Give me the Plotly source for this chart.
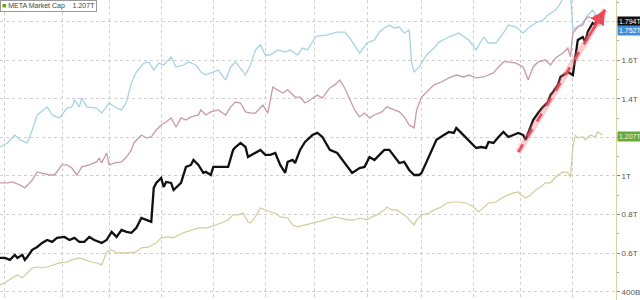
import plotly.graph_objects as go

# ---- data (x = trading-day index, y = market cap in $T on right axis scale) ----
blue_x = [0,3,6,8,11,13,15,19,21,24,27,29,30,32,33,35,39,41,44,47,49,51,53,55,58,60,62,64,66,69,71,74,76,79,81,83,85,88,91,93,95,99,101,103,105,107,109,112,115,117,120,122,124,127,128,132,136,139,141,144,145,148,151,153,155,157,159,161,163,165,166,167,169,172,175,177,181,185,189,192,195,197,200,203,205,208,211,213,216,219,221,224,226,228,230,231,232,235,237,239,241,242]
blue_y = [1.150,1.171,1.212,1.187,1.171,1.238,1.316,1.358,1.316,1.301,1.352,1.358,1.394,1.358,1.404,1.358,1.352,1.326,1.378,1.352,1.342,1.383,1.482,1.539,1.585,1.591,1.549,1.585,1.575,1.617,1.565,1.575,1.591,1.575,1.539,1.523,1.534,1.549,1.497,1.565,1.591,1.523,1.575,1.653,1.679,1.627,1.627,1.653,1.642,1.653,1.627,1.663,1.653,1.715,1.725,1.731,1.746,1.746,1.715,1.653,1.637,1.689,1.705,1.746,1.767,1.782,1.767,1.772,1.741,1.756,1.585,1.539,1.565,1.627,1.663,1.694,1.720,1.741,1.705,1.653,1.720,1.689,1.689,1.741,1.782,1.772,1.741,1.767,1.793,1.808,1.834,1.860,1.896,1.950,1.950,1.756,1.767,1.793,1.834,1.860,1.824,1.772]

pink_x = [0,3,5,8,10,13,15,17,20,22,25,27,29,31,33,36,39,40,41,43,44,46,49,51,53,54,57,59,61,63,65,67,69,71,73,75,77,80,81,83,85,88,91,93,95,97,99,101,103,106,108,110,112,114,116,119,121,123,125,128,130,133,135,137,139,141,143,145,147,149,151,154,156,159,161,163,165,167,168,170,173,175,178,181,184,187,189,192,195,197,199,201,203,205,208,211,213,215,217,220,222,224,227,229,230,231,233,235,236,237,239,240,241]
pink_y = [0.964,0.964,0.969,0.953,0.938,0.979,1.021,1.016,1.005,1.005,1.057,1.057,1.041,1.005,1.047,1.057,1.073,1.093,1.067,1.119,1.057,1.067,1.073,1.098,1.135,1.171,1.212,1.197,1.202,1.238,1.264,1.280,1.301,1.254,1.301,1.290,1.306,1.316,1.342,1.316,1.332,1.342,1.316,1.358,1.383,1.378,1.332,1.326,1.326,1.368,1.326,1.461,1.446,1.430,1.446,1.409,1.409,1.378,1.394,1.419,1.404,1.456,1.472,1.497,1.456,1.394,1.342,1.306,1.326,1.301,1.316,1.332,1.358,1.342,1.332,1.306,1.264,1.249,1.342,1.409,1.446,1.472,1.487,1.508,1.523,1.513,1.523,1.508,1.513,1.523,1.534,1.565,1.591,1.591,1.585,1.565,1.497,1.565,1.591,1.601,1.575,1.611,1.637,1.663,1.617,1.741,1.772,1.782,1.808,1.824,1.819,1.834,1.808]

meta_x = [0,2,4,6,7,9,10,11,13,15,17,19,21,23,26,28,30,32,34,36,38,41,43,45,47,49,51,53,55,57,59,61,62,63,65,66,67,69,70,73,75,77,78,80,82,83,85,86,89,92,94,95,97,99,100,103,105,107,109,111,113,115,116,118,119,121,123,126,128,130,132,133,136,139,142,145,147,149,151,153,155,157,159,161,163,165,167,169,170,172,174,176,179,181,183,184,186,188,190,192,194,196,197,199,201,203,205,207,209,211,212,213,215,217,219,221,222,223,225,226,227,229,231,232,233,235,236,237,239,240,241,242,243]
meta_y = [0.575,0.575,0.565,0.591,0.575,0.591,0.565,0.580,0.617,0.632,0.653,0.668,0.658,0.679,0.684,0.668,0.679,0.658,0.658,0.684,0.668,0.653,0.668,0.710,0.684,0.720,0.710,0.705,0.731,0.782,0.772,0.762,0.938,0.964,0.990,0.943,0.969,0.964,0.927,0.964,1.047,1.057,1.083,1.057,1.016,1.021,1.005,1.047,1.047,1.047,1.135,1.150,1.171,1.150,1.098,1.119,1.135,1.109,1.109,1.119,1.057,1.016,1.073,1.083,1.067,1.135,1.176,1.212,1.223,1.202,1.161,1.135,1.119,1.067,1.016,1.041,1.047,1.098,1.083,1.109,1.135,1.135,1.098,1.067,1.073,1.031,1.005,1.005,1.016,1.073,1.135,1.187,1.212,1.228,1.223,1.249,1.223,1.197,1.171,1.145,1.150,1.145,1.176,1.171,1.202,1.228,1.202,1.212,1.223,1.212,1.187,1.223,1.290,1.326,1.358,1.383,1.420,1.435,1.472,1.513,1.523,1.539,1.523,1.611,1.705,1.720,1.694,1.746,1.793,1.782,1.824,1.798,1.798]

mcap_x = [0,2,5,7,9,11,13,15,17,19,22,24,27,29,32,34,37,39,41,43,45,47,49,52,55,57,60,63,65,68,70,72,75,77,80,83,85,87,89,92,94,96,98,100,101,103,105,107,109,111,113,116,118,120,123,125,127,128,131,133,135,137,140,143,145,148,150,152,155,156,158,160,162,164,165,167,168,170,173,175,178,180,183,185,188,191,193,195,197,200,203,205,207,209,210,212,214,216,218,220,222,223,225,227,229,230,231,232,233,235,236,238,240,241,243]
mcap_y = [0.435,0.446,0.472,0.487,0.472,0.497,0.523,0.528,0.523,0.528,0.539,0.549,0.554,0.565,0.575,0.565,0.554,0.549,0.539,0.606,0.617,0.601,0.601,0.601,0.606,0.627,0.632,0.653,0.679,0.684,0.679,0.694,0.710,0.720,0.731,0.731,0.736,0.746,0.756,0.772,0.798,0.798,0.808,0.762,0.756,0.788,0.834,0.824,0.813,0.808,0.788,0.782,0.746,0.736,0.746,0.756,0.762,0.762,0.772,0.782,0.788,0.782,0.772,0.772,0.782,0.772,0.788,0.798,0.824,0.839,0.824,0.824,0.808,0.788,0.772,0.746,0.772,0.798,0.808,0.824,0.839,0.860,0.865,0.865,0.860,0.839,0.813,0.839,0.860,0.865,0.891,0.902,0.912,0.917,0.902,0.886,0.902,0.927,0.943,0.964,0.964,0.979,1.005,1.021,1.016,0.995,1.150,1.212,1.197,1.202,1.187,1.212,1.202,1.228,1.212]

arrow_x = [209, 244]
arrow_y = [1.124, 1.862]

grid_days = [2, 25, 44, 65, 86, 107, 127, 148, 170, 191, 210, 231]
tick_vals = [0.4, 0.6, 0.8, 1.0, 1.2, 1.4, 1.6, 1.8]
# 1.2T and 1.8T are covered by the last-value labels in the reference
tick_text = ["400B", "0.6T", "0.8T", "1T", "", "1.4T", "1.6T", ""]

legend_name = "META Market Cap"
legend_value = "1.207T"
last_labels = [(1.798, "1.794T", "#111111", "#ffffff"),
               (1.752, "1.752T", "#3d8fdc", "#ffffff"),
               (1.202, "1.207T", "#69a83a", "#eef5e0")]

fig = go.Figure()
fig.add_trace(go.Scatter(x=mcap_x, y=mcap_y, mode="lines",
                         line=dict(color="#cfcd9c", width=1.2), hoverinfo="skip"))
fig.add_trace(go.Scatter(x=blue_x, y=blue_y, mode="lines",
                         line=dict(color="#a6d3e6", width=1.3), hoverinfo="skip"))
fig.add_trace(go.Scatter(x=pink_x, y=pink_y, mode="lines",
                         line=dict(color="#c99aa4", width=1.3), hoverinfo="skip"))
fig.add_trace(go.Scatter(x=meta_x, y=meta_y, mode="lines",
                         line=dict(color="#111111", width=2.3), hoverinfo="skip"))
fig.add_trace(go.Scatter(x=arrow_x, y=arrow_y, mode="lines",
                         line=dict(color="rgba(240,110,120,0.35)", width=6), hoverinfo="skip"))
fig.add_trace(go.Scatter(x=arrow_x, y=arrow_y, mode="lines",
                         line=dict(color="#ec4a57", width=2.5, dash="dash"), hoverinfo="skip"))

fig.add_annotation(x=arrow_x[1], y=arrow_y[1], ax=arrow_x[0] + 0.8 * (arrow_x[1] - arrow_x[0]),
                   ay=arrow_y[0] + 0.8 * (arrow_y[1] - arrow_y[0]), xref="x", yref="y",
                   axref="x", ayref="y", text="", showarrow=True, arrowhead=2,
                   arrowsize=1.2, arrowwidth=2.5, arrowcolor="#ec4a57")

for yv, txt, bg, fg in last_labels:
    fig.add_annotation(x=1, y=yv, xref="paper", yref="y", xanchor="left", yanchor="middle",
                       text=txt, showarrow=False, bgcolor=bg, borderpad=1, xshift=1,
                       font=dict(family="Liberation Sans, Arial", size=7, color=fg))

fig.add_annotation(x=0, y=1, xref="paper", yref="paper", xanchor="left", yanchor="top",
                   text=("<span style='color:#5aa02c'>■</span> " + legend_name +
                         "&nbsp;&nbsp;&nbsp;&nbsp;" + legend_value),
                   showarrow=False, bgcolor="#ffffff", bordercolor="#999999", borderwidth=1,
                   borderpad=1, font=dict(family="Liberation Sans, Arial", size=7, color="#444444"))

fig.update_layout(
    width=640, height=300, margin=dict(l=0, r=19, t=0, b=0),
    paper_bgcolor="#ffffff", plot_bgcolor="#ffffff", showlegend=False,
    xaxis=dict(range=[0, 248.4], tickvals=grid_days, showticklabels=False, ticks="",
               showgrid=True, gridcolor="#cfcfcf", griddash="dot", gridwidth=1,
               zeroline=False, showline=False),
    yaxis=dict(range=[0.357, 1.912], side="right", tickvals=tick_vals, ticktext=tick_text,
               ticks="outside", ticklen=3, tickcolor="#888888",
               tickfont=dict(family="Liberation Sans, Arial", size=8, color="#555555"),
               showgrid=True, gridcolor="#cfcfcf", griddash="dot", gridwidth=1,
               zeroline=False, showline=True, linecolor="#d8d2a4", linewidth=1,
               minor=dict(ticks="outside", ticklen=2, dtick=0.1, tick0=0.4,
                          tickcolor="#aaaaaa", showgrid=False)),
)

fig.write_html("out.html")
